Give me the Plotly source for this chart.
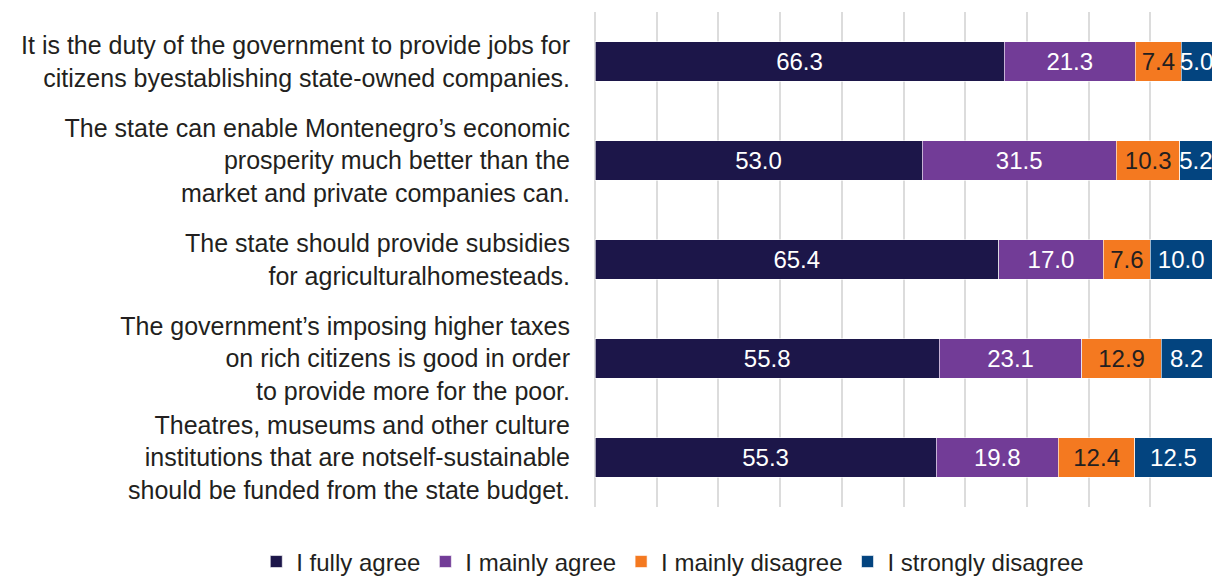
import plotly.graph_objects as go

categories = [
    "It is the duty of the government to provide jobs for<br>citizens byestablishing state-owned companies.",
    "The state can enable Montenegro’s economic<br>prosperity much better than the<br>market and private companies can.",
    "The state should provide subsidies<br>for agriculturalhomesteads.",
    "The government’s imposing higher taxes<br>on rich citizens is good in order<br>to provide more for the poor.",
    "Theatres, museums and other culture<br>institutions that are notself-sustainable<br>should be funded from the state budget.",
]
series_names = ["I fully agree", "I mainly agree", "I mainly disagree", "I strongly disagree"]
fully_agree = [66.3, 53.0, 65.4, 55.8, 55.3]
mainly_agree = [21.3, 31.5, 17.0, 23.1, 19.8]
mainly_disagree = [7.4, 10.3, 7.6, 12.9, 12.4]
strongly_disagree = [5.0, 5.2, 10.0, 8.2, 12.5]

values = [fully_agree, mainly_agree, mainly_disagree, strongly_disagree]
colors = ["#1c1649", "#723c97", "#f47920", "#03447f"]
text_colors = ["#ffffff", "#ffffff", "#231f20", "#ffffff"]

FONT = "Liberation Sans, Arial, sans-serif"

fig = go.Figure()
for name, vals, col, tc in zip(series_names, values, colors, text_colors):
    fig.add_trace(go.Bar(
        y=categories, x=vals, name=name, orientation="h",
        marker=dict(color=col, line=dict(color="rgba(255,255,255,0.6)", width=1)),
        text=[f"{v:.1f}" for v in vals],
        textposition="inside", insidetextanchor="middle",
        constraintext="none", textangle=0,
        textfont=dict(family=FONT, size=24, color=tc),
        width=0.4,
    ))

fig.update_layout(
    barmode="stack",
    width=1214, height=569,
    margin=dict(l=587, r=10, t=4, b=70, autoexpand=False),
    plot_bgcolor="white", paper_bgcolor="white",
    font=dict(family=FONT, size=25, color="#231f20"),
    xaxis=dict(range=[0, 100], dtick=10, showticklabels=False, showgrid=True,
               gridcolor="#dcdcdc", gridwidth=2, zeroline=True, zerolinecolor="#dcdcdc",
               zerolinewidth=2, fixedrange=True),
    yaxis=dict(autorange="reversed", showgrid=False, ticks="", ticklabelstandoff=24,
               tickfont=dict(family=FONT, size=25, color="#231f20")),
    legend=dict(orientation="h", xref="paper", yref="paper",
                x=-0.549, xanchor="left", y=-0.111, yanchor="middle",
                font=dict(family=FONT, size=24, color="#231f20"), traceorder="normal"),
    showlegend=True,
)

fig.write_html("out.html")
